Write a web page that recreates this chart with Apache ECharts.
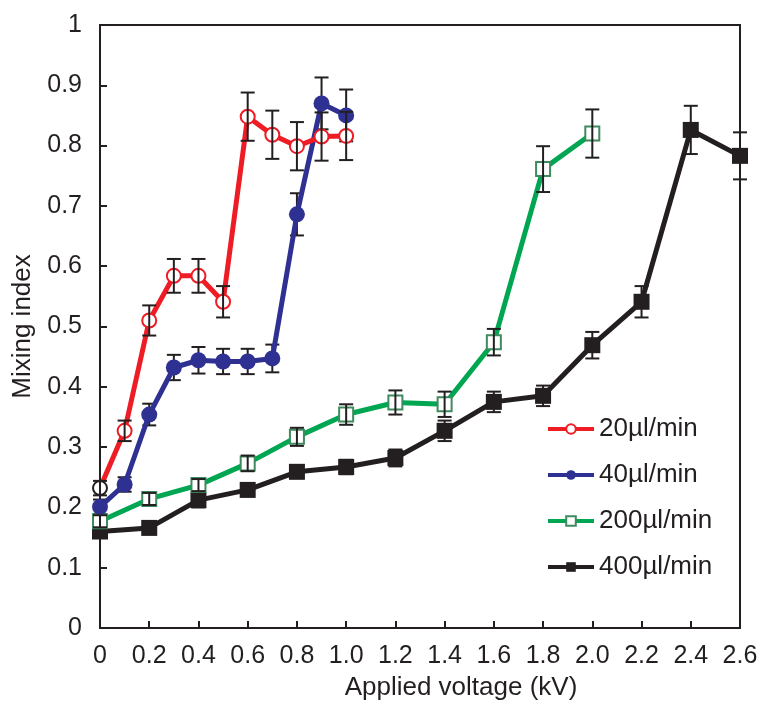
<!DOCTYPE html>
<html>
<head>
<meta charset="utf-8">
<script src="https://cdn.jsdelivr.net/npm/echarts@6/dist/echarts.min.js"></script>
<style>
html,body{margin:0;padding:0;background:#fff;}
#chart{width:762px;height:706px;}
</style>
</head>
<body>
<div id="chart"></div>
<script>
// ---- data ----
const xRed = [0, 0.1, 0.2, 0.3, 0.4, 0.5, 0.6, 0.7, 0.8, 0.9, 1.0];
const red = [0.232, 0.327, 0.51, 0.584, 0.584, 0.541, 0.848, 0.818, 0.799, 0.815, 0.816];
const redErr = [0.012, 0.017, 0.025, 0.028, 0.028, 0.026, 0.04, 0.04, 0.04, 0.04, 0.04];

const xBlue = [0, 0.1, 0.2, 0.3, 0.4, 0.5, 0.6, 0.7, 0.8, 0.9, 1.0];
const blue = [0.201, 0.238, 0.354, 0.432, 0.444, 0.442, 0.442, 0.447, 0.686, 0.87, 0.85];
const blueErr = [0.012, 0.012, 0.018, 0.021, 0.022, 0.021, 0.021, 0.023, 0.035, 0.043, 0.043];

const xGreen = [0, 0.2, 0.4, 0.6, 0.8, 1.0, 1.2, 1.4, 1.6, 1.8, 2.0];
const green = [0.177, 0.214, 0.237, 0.273, 0.317, 0.354, 0.374, 0.371, 0.474, 0.761, 0.82];
const greenErr = [0.01, 0.01, 0.01, 0.013, 0.015, 0.017, 0.02, 0.021, 0.022, 0.038, 0.04];

const xBlack = [0, 0.2, 0.4, 0.6, 0.8, 1.0, 1.2, 1.4, 1.6, 1.8, 2.0, 2.2, 2.4, 2.6];
const black = [0.16, 0.166, 0.212, 0.229, 0.259, 0.267, 0.282, 0.327, 0.375, 0.385, 0.469, 0.541, 0.826, 0.783];
const blackErr = [0.01, 0.008, 0.012, 0.01, 0.01, 0.012, 0.014, 0.017, 0.017, 0.017, 0.022, 0.026, 0.04, 0.039];

const seriesNames = ['20µl/min', '40µl/min', '200µl/min', '400µl/min'];
const xTitle = 'Applied voltage (kV)';
const yTitle = 'Mixing index';

// ---- chart ----
const FONT = '"Liberation Sans", Arial, Helvetica, sans-serif';
const INK = '#231f20';
const chart = echarts.init(document.getElementById('chart'), null, {renderer: 'canvas'});

function pairs(xs, ys) { return xs.map((x, i) => [x, ys[i]]); }
function errData(xs, ys, es) { return xs.map((x, i) => [x, ys[i] - es[i], ys[i] + es[i]]); }

function errSeries(xs, ys, es, z) {
  return {
    type: 'custom',
    z: z,
    silent: true,
    data: errData(xs, ys, es),
    encode: {x: 0, y: [1, 2]},
    renderItem: function (params, api) {
      const x = api.value(0);
      const lo = api.coord([x, api.value(1)]);
      const hi = api.coord([x, api.value(2)]);
      const hw = 7;
      const st = {stroke: INK, lineWidth: 2, fill: null};
      return {
        type: 'group',
        children: [
          {type: 'line', shape: {x1: lo[0], y1: lo[1], x2: hi[0], y2: hi[1]}, style: st},
          {type: 'line', shape: {x1: lo[0] - hw, y1: lo[1], x2: lo[0] + hw, y2: lo[1]}, style: st},
          {type: 'line', shape: {x1: hi[0] - hw, y1: hi[1], x2: hi[0] + hw, y2: hi[1]}, style: st}
        ]
      };
    }
  };
}

const redData = pairs(xRed, red).map((p, i) => i === 0 ? {value: p, itemStyle: {borderColor: INK}} : p);

const option = {
  animation: false,
  backgroundColor: '#fff',
  grid: {left: 100, right: 22, top: 25, bottom: 78, show: true, borderColor: INK, borderWidth: 2, backgroundColor: 'transparent'},
  legend: {
    data: seriesNames,
    orient: 'vertical',
    left: 546,
    top: 416,
    padding: 0,
    itemWidth: 46,
    itemHeight: 12,
    itemGap: 20,
    lineStyle: {width: 4},
    textStyle: {fontFamily: FONT, fontSize: 26, color: INK, lineHeight: 26}
  },
  xAxis: {
    type: 'value', min: 0, max: 2.6, interval: 0.2,
    name: xTitle, nameLocation: 'middle', nameGap: 47,
    nameTextStyle: {fontFamily: FONT, fontSize: 26, color: INK, padding: [0, 0, 0, 82]},
    axisLine: {lineStyle: {color: INK, width: 2}},
    axisTick: {inside: true, length: 7, lineStyle: {color: INK, width: 2}},
    axisLabel: {fontFamily: FONT, fontSize: 25, color: INK, margin: 16,
      formatter: v => v === 0 ? '0' : v.toFixed(1)},
    splitLine: {show: false}
  },
  yAxis: {
    type: 'value', min: 0, max: 1, interval: 0.1,
    name: yTitle, nameLocation: 'middle', nameGap: 64,
    nameTextStyle: {fontFamily: FONT, fontSize: 26, color: INK},
    axisLine: {show: true, lineStyle: {color: INK, width: 2}},
    axisTick: {show: true, inside: true, length: 7, lineStyle: {color: INK, width: 2}},
    axisLabel: {fontFamily: FONT, fontSize: 25, color: INK, margin: 18,
      formatter: v => (v === 0 || v === 1) ? String(v) : v.toFixed(1)},
    splitLine: {show: false}
  },
  series: [
    errSeries(xBlack, black, blackErr, 1),
    errSeries(xBlue, blue, blueErr, 1),
    {
      name: seriesNames[3], type: 'line', z: 2, data: pairs(xBlack, black),
      symbol: 'rect', symbolSize: 16,
      lineStyle: {color: INK, width: 5},
      itemStyle: {color: INK, borderColor: INK, borderWidth: 0}
    },
    {
      name: seriesNames[2], type: 'line', z: 2, data: pairs(xGreen, green),
      symbol: 'rect', symbolSize: 14,
      lineStyle: {color: '#00a651', width: 5},
      itemStyle: {color: '#fff', borderColor: '#3f8a5e', borderWidth: 2}
    },
    {
      name: seriesNames[1], type: 'line', z: 2, data: pairs(xBlue, blue),
      symbol: 'circle', symbolSize: 16,
      lineStyle: {color: '#2e3192', width: 5},
      itemStyle: {color: '#2e3192', borderColor: '#2e3192', borderWidth: 0}
    },
    {
      name: seriesNames[0], type: 'line', z: 2, data: redData,
      symbol: 'circle', symbolSize: 14,
      lineStyle: {color: '#ee1c25', width: 5},
      itemStyle: {color: '#fff', borderColor: '#ee1c25', borderWidth: 2}
    },
    errSeries(xGreen, green, greenErr, 3),
    errSeries(xRed, red, redErr, 3)
  ]
};
chart.setOption(option);
</script>
</body>
</html>
